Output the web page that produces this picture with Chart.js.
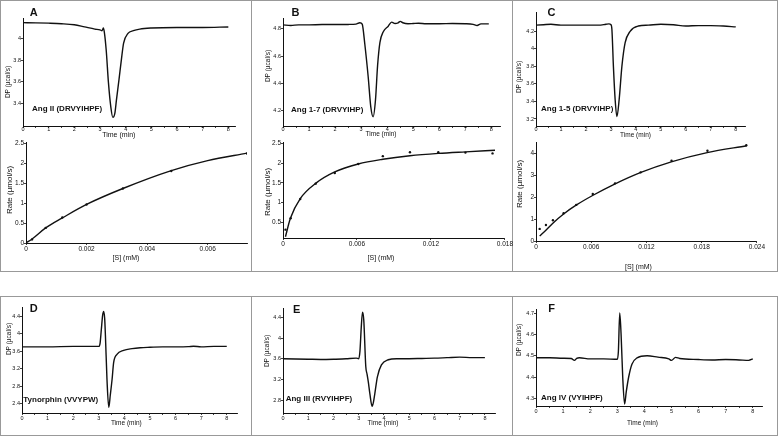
<!DOCTYPE html>
<html><head><meta charset="utf-8">
<script src="https://cdn.jsdelivr.net/npm/chart.js@4.4.1/dist/chart.umd.min.js"></script>
<style>
html,body{margin:0;padding:0;background:#fff;}
body{width:778px;height:436px;position:relative;overflow:hidden;font-family:"Liberation Sans",Arial,sans-serif;color:#111;}
.frame{position:absolute;border:1px solid #999;box-sizing:border-box;}
.vdiv{position:absolute;width:1px;background:#999;}
canvas{position:absolute;}
.txt{position:absolute;white-space:nowrap;line-height:1;}
.c{transform:translate(-50%,-50%);}
.r{transform:translate(-50%,-50%) rotate(-90deg);}
.l{transform:translate(0,-50%);}
.letter{font-weight:bold;font-size:11px;}
.pep{font-weight:bold;font-size:8px;}
</style></head><body>
<div class="frame" style="left:0;top:0;width:778px;height:272px"></div>
<div class="vdiv" style="left:251px;top:0;height:272px"></div>
<div class="vdiv" style="left:512px;top:0;height:272px"></div>
<div class="frame" style="left:0;top:296px;width:778px;height:140px"></div>
<div class="vdiv" style="left:251px;top:296px;height:140px"></div>
<div class="vdiv" style="left:512px;top:296px;height:140px"></div>
<script>
/* ===== data: thermograms (time in min, DP in µcal/s) ===== */
const T_A=[0,0.5,1,1.5,2,2.4,2.8,3.0,3.08,3.13,3.17,3.24,3.33,3.42,3.5,3.58,3.64,3.74,3.83,3.92,4.09,4.3,4.55,5,6,7,8];
const DP_A=[4.15,4.148,4.145,4.14,4.13,4.11,4.09,4.083,4.075,4.1,4.06,3.9,3.59,3.37,3.27,3.31,3.43,3.62,3.8,3.96,4.05,4.075,4.09,4.1,4.105,4.105,4.11];

const T_B=[0,0.3,0.6,1,1.5,2,2.5,2.8,2.95,3.04,3.14,3.27,3.37,3.46,3.55,3.63,3.72,3.85,4.04,4.17,4.3,4.42,4.5,4.6,4.8,5,5.2,5.5,6,6.5,7,7.3,7.45,7.6,7.9];
const DP_B=[4.83,4.825,4.83,4.83,4.832,4.832,4.833,4.835,4.845,4.835,4.69,4.45,4.23,4.158,4.28,4.53,4.7,4.78,4.82,4.85,4.84,4.845,4.855,4.845,4.838,4.84,4.842,4.838,4.838,4.84,4.838,4.833,4.825,4.837,4.837];

const T_C=[0,0.3,0.6,1,1.5,2,2.5,2.8,2.92,3.0,3.04,3.1,3.17,3.24,3.33,3.44,3.57,3.77,4.1,4.5,5,5.5,6,6.5,7,7.5,8];
const DP_C=[4.27,4.275,4.28,4.27,4.27,4.27,4.27,4.28,4.285,4.275,4.22,3.8,3.42,3.227,3.42,3.8,4.07,4.2,4.26,4.27,4.28,4.275,4.26,4.265,4.265,4.26,4.25];

const T_D=[0,1,2,2.5,3.0,3.05,3.1,3.15,3.19,3.23,3.26,3.32,3.39,3.45,3.52,3.58,3.71,3.97,4.3,4.62,5,5.5,6,6.5,6.7,7,7.5,8];
const DP_D=[3.7,3.7,3.71,3.71,3.71,3.78,4.1,4.42,4.51,4.35,3.95,2.96,2.32,2.6,2.96,3.34,3.53,3.62,3.66,3.68,3.69,3.7,3.7,3.705,3.715,3.7,3.71,3.71];

const T_E=[0,0.5,1,1.5,2,2.5,2.9,3.0,3.05,3.1,3.15,3.2,3.28,3.33,3.38,3.44,3.53,3.58,3.64,3.74,3.9,4.17,4.5,5,5.5,6,6.5,7,7.5,8];
const DP_E=[3.6,3.595,3.59,3.585,3.59,3.6,3.61,3.6,3.75,4.2,4.5,4.35,3.45,3.3,3.15,2.93,2.68,2.75,2.93,3.25,3.48,3.58,3.6,3.6,3.605,3.61,3.62,3.63,3.62,3.62];

const T_F=[0,0.5,1,1.3,1.42,1.5,1.6,2,2.5,3.0,3.04,3.09,3.14,3.2,3.27,3.33,3.42,3.54,3.73,4.1,4.5,4.9,5.0,5.15,5.3,6,6.5,7,7.5,7.85,8];
const DP_F=[4.49,4.49,4.488,4.487,4.478,4.487,4.49,4.485,4.485,4.483,4.52,4.7,4.6,4.4,4.273,4.33,4.4,4.46,4.49,4.5,4.493,4.485,4.478,4.492,4.487,4.482,4.48,4.482,4.48,4.478,4.485];

/* ===== data: kinetics ([S] in mM, rate in µmol/s) ===== */
const S_A_FIT=[0,0.0002,0.00065,0.0012,0.002,0.0032,0.0048,0.006,0.0073];
const V_A_FIT=[0,0.1,0.38,0.63,0.97,1.37,1.82,2.07,2.26];
const S_A=[0.0002,0.00065,0.0012,0.002,0.0032,0.0048,0.0073];
const V_A=[0.09,0.38,0.64,0.97,1.37,1.81,2.25];

const S_B_FIT=[0.0002,0.0006,0.0014,0.0027,0.0042,0.0061,0.0081,0.0103,0.0126,0.0148,0.0172];
const V_B_FIT=[0.13,0.6,1.1,1.5,1.78,1.98,2.1,2.19,2.25,2.29,2.33];
const S_B=[0.0002,0.00062,0.0014,0.00265,0.0042,0.0061,0.0081,0.0103,0.0126,0.0148,0.017];
const V_B=[0.31,0.6,1.09,1.48,1.75,1.98,2.18,2.28,2.28,2.27,2.25];

const S_C_FIT=[0.0004,0.0011,0.0018,0.003,0.0044,0.0062,0.0086,0.0114,0.0147,0.0186,0.0229];
const V_C_FIT=[0.23,0.5,0.8,1.23,1.64,2.08,2.6,3.12,3.6,4.02,4.33];
const S_C=[0.0004,0.00108,0.00184,0.003,0.00437,0.00617,0.00859,0.01137,0.01473,0.01863,0.02285];
const V_C=[0.55,0.73,0.94,1.26,1.64,2.14,2.62,3.12,3.65,4.1,4.35];

/* ===== tick labels ===== */
const TIME_TICKS=[0,1,2,3,4,5,6,7,8];
const TIME_MINOR=[0.5,1.5,2.5,3.5,4.5,5.5,6.5,7.5];
const Y_A=[3.4,3.6,3.8,4], Y_B=[4.2,4.4,4.6,4.8], Y_C=[3.2,3.4,3.6,3.8,4,4.2];
const Y_D=[2.4,2.8,3.2,3.6,4,4.4], Y_E=[2.8,3.2,3.6,4,4.4], Y_F=[4.3,4.4,4.5,4.6,4.7];
const SX_A=[0,0.002,0.004,0.006], SX_B=[0,0.006,0.012,0.018], SX_C=[0,0.006,0.012,0.018,0.024];
const RY_A=[0,0.5,1,1.5,2,2.5], RY_B=[0.5,1,1.5,2,2.5], RY_C=[0,1,2,3,4];

const FONT='"Liberation Sans", Arial, sans-serif';
const INK='#111';
const PAD={l:26,t:8,r:8,b:12};
const pts=(xs,ys)=>xs.map((x,i)=>({x,y:ys[i]}));

function makeChart(box,datasets,xr,yr,xTicks,yTicks,minorX,tickSize,xPad){
  const [L,T,R,B]=box;
  const w=R-L+PAD.l+PAD.r, h=B-T+PAD.t+PAD.b;
  const cv=document.createElement("canvas");
  cv.width=w; cv.height=h;
  cv.style.left=(L-PAD.l)+"px"; cv.style.top=(T-PAD.t)+"px";
  cv.style.width=w+"px"; cv.style.height=h+"px";
  document.body.appendChild(cv);
  const axis=(ticks,minor,min,max,isX)=>({
    type:"linear",min,max,
    afterBuildTicks(s){ s.ticks=[...ticks,...(minor||[])].sort((a,b)=>a-b).map(v=>({value:v})); },
    afterFit(s){ if(isX) s.height=PAD.b; else s.width=PAD.l; },
    ticks:{font:{family:FONT,size:tickSize},color:INK,padding:isX?xPad:0,autoSkip:false,maxRotation:0,
      callback:v=>ticks.includes(v)?String(v):""},
    grid:{drawOnChartArea:false,tickLength:2,color:INK,lineWidth:0.8},
    border:{color:INK,width:1}
  });
  return new Chart(cv,{type:"line",data:{datasets},
    options:{responsive:false,animation:false,events:[],
      layout:{padding:{left:0,top:PAD.t,right:PAD.r,bottom:0}},
      plugins:{legend:{display:false},tooltip:{enabled:false}},
      scales:{x:axis(xTicks,minorX,xr[0],xr[1],true),y:axis(yTicks,null,yr[0],yr[1],false)}}});
}
const trace=(xs,ys)=>({data:pts(xs,ys),borderColor:INK,borderWidth:1.4,pointRadius:0,cubicInterpolationMode:"monotone",fill:false});
const dots=(xs,ys)=>({data:pts(xs,ys),showLine:false,pointRadius:1.2,pointBorderWidth:0,pointBackgroundColor:INK});

/* ===== thermogram panels ===== */
makeChart([23,18,235,126],[trace(T_A,DP_A)],[0,8.26],[3.19,4.193],TIME_TICKS,Y_A,TIME_MINOR,5.5,-2);
makeChart([283,18,500,126],[trace(T_B,DP_B)],[0,8.33],[4.09,4.88],TIME_TICKS,Y_B,TIME_MINOR,5.5,-2);
makeChart([536,12,745,126],[trace(T_C,DP_C)],[0,8.37],[3.12,4.42],TIME_TICKS,Y_C,TIME_MINOR,5.5,-2);
makeChart([22,307,237,413],[trace(T_D,DP_D)],[0,8.4],[2.19,4.61],TIME_TICKS,Y_D,TIME_MINOR,5.5,0);
makeChart([283,308,495,413],[trace(T_E,DP_E)],[0,8.4],[2.55,4.58],TIME_TICKS,Y_E,TIME_MINOR,5.5,0);
makeChart([536,309,762,406],[trace(T_F,DP_F)],[0,8.34],[4.264,4.719],TIME_TICKS,Y_F,TIME_MINOR,5.5,0);

/* ===== rate panels ===== */
makeChart([26,142,247,243],[trace(S_A_FIT,V_A_FIT),dots(S_A,V_A)],[0,0.0073],[0,2.54],SX_A,RY_A,null,6.5,0);
makeChart([283,142,505,238],[trace(S_B_FIT,V_B_FIT),dots(S_B,V_B)],[0,0.018],[0.097,2.54],SX_B,RY_B,null,6.5,0);
makeChart([536,142,757,241],[trace(S_C_FIT,V_C_FIT),dots(S_C,V_C)],[0,0.024],[0,4.5],SX_C,RY_C,null,6.5,0);

/* ===== text ===== */
function put(cls,text,x,y,size){
  const d=document.createElement("div");
  d.className="txt "+cls; d.textContent=text;
  d.style.left=x+"px"; d.style.top=y+"px";
  if(size) d.style.fontSize=size+"px";
  document.body.appendChild(d);
}
[["A",33.8,11.7],["B",295.5,12],["C",551.5,12],["D",33.7,308.2],["E",296.7,309.2],["F",551.7,307.8]]
  .forEach(([t,x,y])=>put("c letter",t,x,y));
[["Ang II (DRVYIHPF)",32,109.4],["Ang 1-7 (DRVYIHP)",291,109.5],["Ang 1-5 (DRVYIHP)",541,109.3],
 ["Tynorphin (VVYPW)",23.3,400],["Ang III (RVYIHPF)",285.7,398.8],["Ang IV (VYIHPF)",541,398.3]]
  .forEach(([t,x,y])=>put("l pep",t,x,y));
[[8.3,81.7],[267.7,65.8],[519,76.7],[8.5,339],[266.7,351],[519,340]]
  .forEach(([x,y])=>put("r","DP (µcal/s)",x,y,6.5));
[[10,190],[267.7,191.7],[520,184.2]].forEach(([x,y])=>put("r","Rate (µmol/s)",x,y,8));
[[118.8,133.5,7],[381,133.5,6.5],[635.5,134.5,6.5],[126.3,422.7,6.5],[383,422.7,6.5],[642.5,422.7,6.5]]
  .forEach(([x,y,s])=>put("c","Time (min)",x,y,s));
[[126,256.7],[381,256.7],[638.5,266]].forEach(([x,y])=>put("c","[S] (mM)",x,y,7));
</script>
</body></html>
